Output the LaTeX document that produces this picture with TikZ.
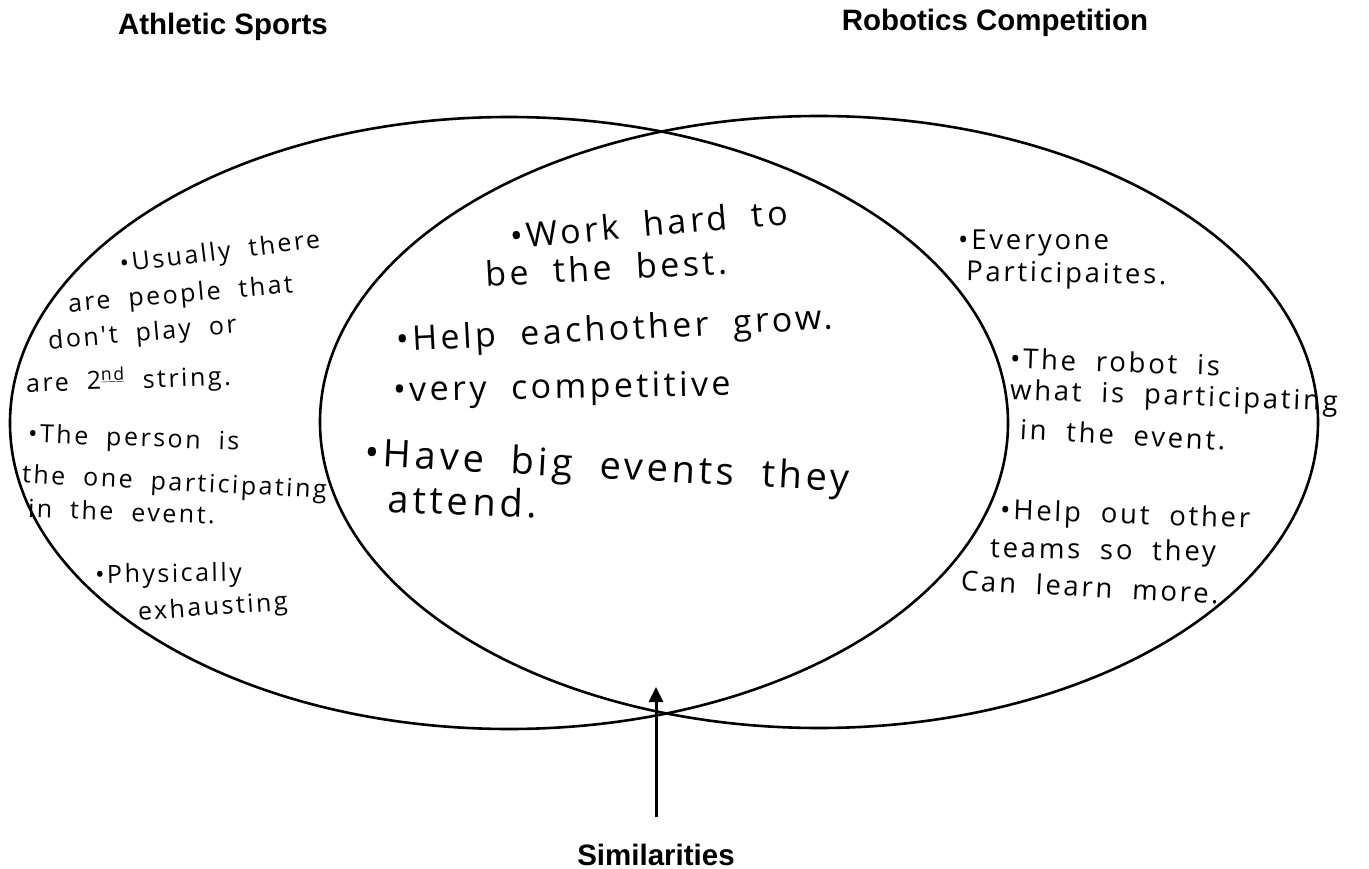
\documentclass[tikz,border=0pt]{standalone}
\usepackage{fontspec}
\setmainfont{Liberation Sans}
\newfontfamily\handfont[LetterSpace=10,WordSpace=2]{Open Sans}
\usetikzlibrary{arrows.meta}
\tikzset{
every node/.style={inner sep=2pt},
title/.style={anchor=base, font=\bfseries\fontsize{29.5}{34}\selectfont},
hand/.style={anchor=west, font=\handfont\fontsize{25}{29}\selectfont},
midhand/.style={hand, font=\handfont\fontsize{34}{38}\selectfont},
bighand/.style={hand, font=\handfont\fontsize{38}{42}\selectfont},
robhand/.style={hand, font=\handfont\fontsize{27.5}{31}\selectfont},
setline/.style={line width=2.6pt},
simarrow/.style={line width=3pt, -{Triangle[length=15pt,width=14pt]}}
}

\begin{document}
\begin{tikzpicture}[x=1pt, y=-1pt]
\useasboundingbox (0,0) rectangle (1369,869);

\node[title] (athletic) at (223,35) {Athletic Sports};
\node[title] (robotics) at (995,31) {Robotics Competition};

\draw[setline] (509,423) ellipse [x radius=499pt, y radius=306pt];
\draw[setline] (819,422) ellipse [x radius=499pt, y radius=306pt];

% athletic sports only
\node[hand, rotate=7] (ath1) at (118,266) {\textbullet Usually there};
\node[hand, rotate=5] (ath2) at (66,306) {are people that};
\node[hand, rotate=5] (ath3) at (46,343) {don't play or};
\node[hand, rotate=2] (ath4) at (24,384) {are 2\textsuperscript{\underline{nd}} string.};
\node[hand, rotate=-2] (ath5) at (26,436) {\textbullet The person is};
\node[hand, rotate=-3] (ath6) at (20,476) {the one participating};
\node[hand, rotate=-2] (ath7) at (26,508) {in the event.};
\node[hand, rotate=1] (ath8) at (93,577) {\textbullet Physically};
\node[hand, rotate=4] (ath9) at (136,614) {exhausting};

% both
\node[midhand, rotate=5] (both1) at (508,236) {\textbullet Work hard to};
\node[midhand, rotate=3] (both2) at (483,274) {be the best.};
\node[midhand, rotate=3] (both3) at (394,343) {\textbullet Help eachother grow.};
\node[midhand, rotate=1] (both4) at (391,393) {\textbullet very competitive};
\node[bighand, rotate=-3] (both5) at (363,456) {\textbullet Have big events they};
\node[bighand, rotate=-2] (both6) at (386,498) {attend.};

% robotics competition only
\node[robhand] (rob1) at (956,243) {\textbullet Everyone};
\node[robhand, rotate=-1] (rob2) at (964,274) {Participaites.};
\node[robhand, rotate=-2] (rob3) at (1008,358) {\textbullet The robot is};
\node[robhand, rotate=-2] (rob4) at (1008,392) {what is participating};
\node[robhand, rotate=-3] (rob5) at (1018,429) {in the event.};
\node[robhand, rotate=-2] (rob6) at (998,512) {\textbullet Help out other};
\node[robhand, rotate=-1] (rob7) at (988,550) {teams so they};
\node[robhand, rotate=-3] (rob8) at (959,580) {Can learn more.};

\node[title] (sim) at (656,865) {Similarities};
\coordinate (tip) at (656,687);
\draw[simarrow, shorten <=24pt] (sim.north) -- (tip);
\end{tikzpicture}
\end{document}
